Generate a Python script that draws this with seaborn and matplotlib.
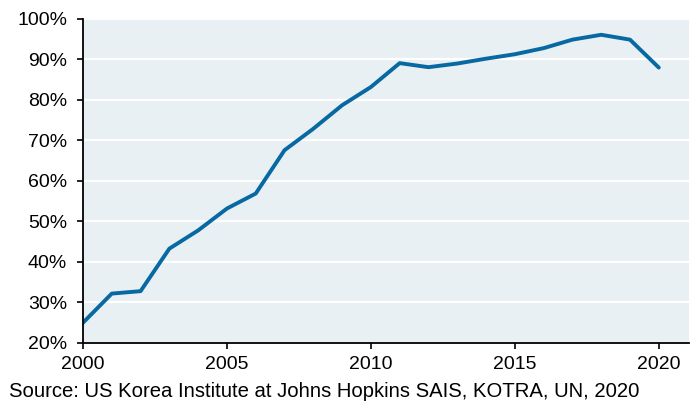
import matplotlib
matplotlib.use("Agg")
import matplotlib.pyplot as plt
from matplotlib.ticker import PercentFormatter, MultipleLocator
import seaborn as sns
import pandas as pd

# yearly values (%)
years = [2000, 2001, 2002, 2003, 2004, 2005, 2006, 2007, 2008, 2009, 2010,
         2011, 2012, 2013, 2014, 2015, 2016, 2017, 2018, 2019, 2020]
share_pct = [25.0, 32.2, 32.8, 43.3, 47.8, 53.2, 56.9, 67.6, 72.9, 78.7, 83.2,
             89.1, 88.1, 89.0, 90.2, 91.3, 92.8, 94.9, 96.1, 94.9, 88.0]
x_ticks = [2000, 2005, 2010, 2015, 2020]
source_note = "Source: US Korea Institute at Johns Hopkins SAIS, KOTRA, UN, 2020"

BG = "#e8f0f4"
LINE = "#0868a2"

sns.set_theme(style="white")
plt.rcParams["font.family"] = ["Liberation Sans", "DejaVu Sans"]

df = pd.DataFrame({"year": years, "share": share_pct})

fig = plt.figure(figsize=(6.95, 4.04), dpi=100)
ax = fig.add_axes([0.1194, 0.151, 0.872, 0.802])
ax.set_facecolor(BG)

sns.lineplot(data=df, x="year", y="share", color=LINE, linewidth=2.8, ax=ax,
             solid_joinstyle="round", solid_capstyle="round")

ax.set_xlim(2000, 2021.05)
ax.set_ylim(20, 100)
ax.set_xticks(x_ticks)
ax.yaxis.set_major_locator(MultipleLocator(10))
ax.yaxis.set_major_formatter(PercentFormatter(decimals=0))
ax.set_xlabel("")
ax.set_ylabel("")

ax.grid(axis="y", color="white", linewidth=1.6)
ax.grid(axis="x", visible=False)
ax.set_axisbelow(True)

for side in ["top", "right"]:
    ax.spines[side].set_visible(False)
for side in ["left", "bottom"]:
    ax.spines[side].set_color("black")
    ax.spines[side].set_linewidth(1.3)

ax.tick_params(axis="y", which="major", direction="out", length=4.5, width=1.2,
               color="black", pad=7, labelsize=14, labelcolor="black", left=True)
ax.tick_params(axis="x", which="major", direction="out", length=4.5, width=1.2,
               color="black", pad=5, labelsize=14, labelcolor="black", bottom=True)

fig.text(0.013, 0.008, source_note, fontsize=14.6, color="black", ha="left", va="bottom")

fig.savefig("out.png", dpi=100)
